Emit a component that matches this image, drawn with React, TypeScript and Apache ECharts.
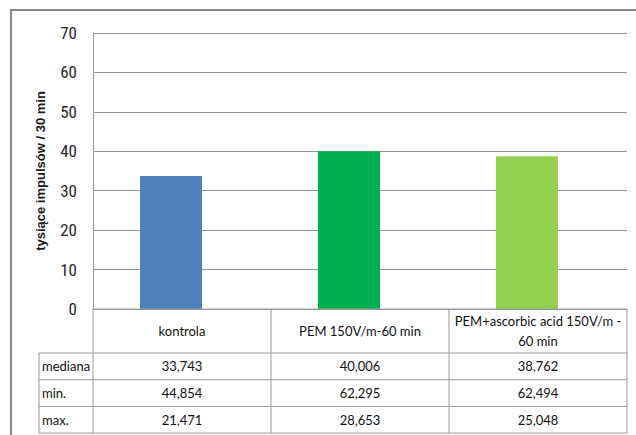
import React, { useEffect, useRef } from "react";
import * as echarts from "echarts";

const categories = ["kontrola", "PEM 150V/m-60 min", "PEM+ascorbic acid 150V/m -\n60 min"];
const mediana = [33.743, 40.006, 38.762];
const minVals = [44.854, 62.295, 62.494];
const maxVals = [21.471, 28.653, 25.048];
const rowLabels = ["mediana", "min.", "max."];
const barColors = ["#4F81BD", "#00B050", "#92D050"];
const yTicks = { min: 0, max: 70, interval: 10 };
const yTitle = "tysiące impulsów / 30 min";

const W = 636;
const H = 435;
const GRID_LEFT = 93;
const GRID_TOP = 33;
const GRID_RIGHT_X = 627;
const ZERO_Y = 309;
const HEADER_BOTTOM = 353;
const ROW_H = 26.7;
const LABEL_LEFT = 39;
const LINE_COLOR = "#9a9a9a";
const NARROW = "'Liberation Sans Narrow', 'Roboto Condensed', 'DejaVu Sans Condensed', sans-serif";
const TABLE_FONT = "Lato, 'Open Sans', sans-serif";

const fmt = (v: number) => v.toFixed(3).replace(".", ",");

export default function App() {
  const ref = useRef<HTMLDivElement>(null);
  useEffect(() => {
    if (!ref.current) return;
    const chart = echarts.init(ref.current, undefined, { renderer: "svg" });
    const n = categories.length;
    const colW = (GRID_RIGHT_X - GRID_LEFT) / n;
    const colX = (i: number) => GRID_LEFT + i * colW;
    const rows = [mediana, minVals, maxVals];
    const tableBottom = HEADER_BOTTOM + ROW_H * rows.length;

    const line = (x1: number, y1: number, x2: number, y2: number) => ({
      type: "line",
      shape: { x1, y1, x2, y2 },
      style: { stroke: LINE_COLOR, lineWidth: 1 },
      z: 10,
      silent: true,
    });
    const text = (t: string, x: number, y: number, align: string) => ({
      type: "text",
      x,
      y,
      style: {
        text: t,
        fill: "#111111",
        font: `13px ${TABLE_FONT}`,
        textAlign: align,
        textVerticalAlign: "middle",
        lineHeight: 20,
      },
      z: 11,
      silent: true,
    });

    const graphics: any[] = [];
    graphics.push({
      type: "rect",
      shape: { x: 11, y: 10, width: 700, height: 500 },
      style: { fill: "none", stroke: "#878787", lineWidth: 2 },
      z: 1,
      silent: true,
    });
    for (let i = 0; i <= n; i++) {
      graphics.push(line(colX(i), ZERO_Y, colX(i), tableBottom));
    }
    graphics.push(line(LABEL_LEFT, HEADER_BOTTOM, LABEL_LEFT, tableBottom));
    graphics.push(line(GRID_LEFT, ZERO_Y, GRID_RIGHT_X, ZERO_Y));
    for (let r = 0; r <= rows.length; r++) {
      const y = HEADER_BOTTOM + r * ROW_H;
      graphics.push(line(LABEL_LEFT, y, GRID_RIGHT_X, y));
    }
    categories.forEach((c, i) => {
      graphics.push(text(c, colX(i) + colW / 2, (ZERO_Y + HEADER_BOTTOM) / 2, "center"));
    });
    rows.forEach((vals, r) => {
      const cy = HEADER_BOTTOM + r * ROW_H + ROW_H / 2;
      graphics.push(text(rowLabels[r], LABEL_LEFT + 3, cy, "left"));
      vals.forEach((v, i) => {
        graphics.push(text(fmt(v), colX(i) + colW / 2, cy, "center"));
      });
    });

    chart.setOption({
      animation: false,
      backgroundColor: "#ffffff",
      grid: {
        left: GRID_LEFT,
        top: GRID_TOP,
        right: W - GRID_RIGHT_X,
        bottom: H - ZERO_Y,
      },
      xAxis: {
        type: "category",
        data: categories,
        axisLabel: { show: false },
        axisTick: { show: false },
        axisLine: { show: true, lineStyle: { color: LINE_COLOR } },
      },
      yAxis: {
        type: "value",
        min: yTicks.min,
        max: yTicks.max,
        interval: yTicks.interval,
        name: yTitle,
        nameLocation: "middle",
        nameGap: 46,
        nameTextStyle: {
          fontFamily: "'Liberation Sans', Arial, sans-serif",
          fontWeight: "bold",
          fontSize: 13,
          color: "#1a1a1a",
        },
        axisLine: { show: true, lineStyle: { color: LINE_COLOR } },
        axisTick: { show: false },
        axisLabel: {
          margin: 16,
          fontSize: 17,
          fontFamily: NARROW,
          color: "#262626",
        },
        splitLine: { show: true, lineStyle: { color: "#929292", width: 1 } },
      },
      series: [
        {
          type: "bar",
          data: mediana.map((v, i) => ({ value: v, itemStyle: { color: barColors[i] } })),
          barWidth: 62,
          barGap: "-64.5%",
        },
        {
          type: "bar",
          data: mediana.map(() => null),
          barWidth: 62,
          itemStyle: { color: "transparent" },
          silent: true,
        },
      ],
      graphic: graphics,
    });
    return () => chart.dispose();
  }, []);

  return (
    <div
      ref={ref}
      style={{ position: "fixed", left: 0, top: 0, width: W, height: H, background: "#fff" }}
    />
  );
}
